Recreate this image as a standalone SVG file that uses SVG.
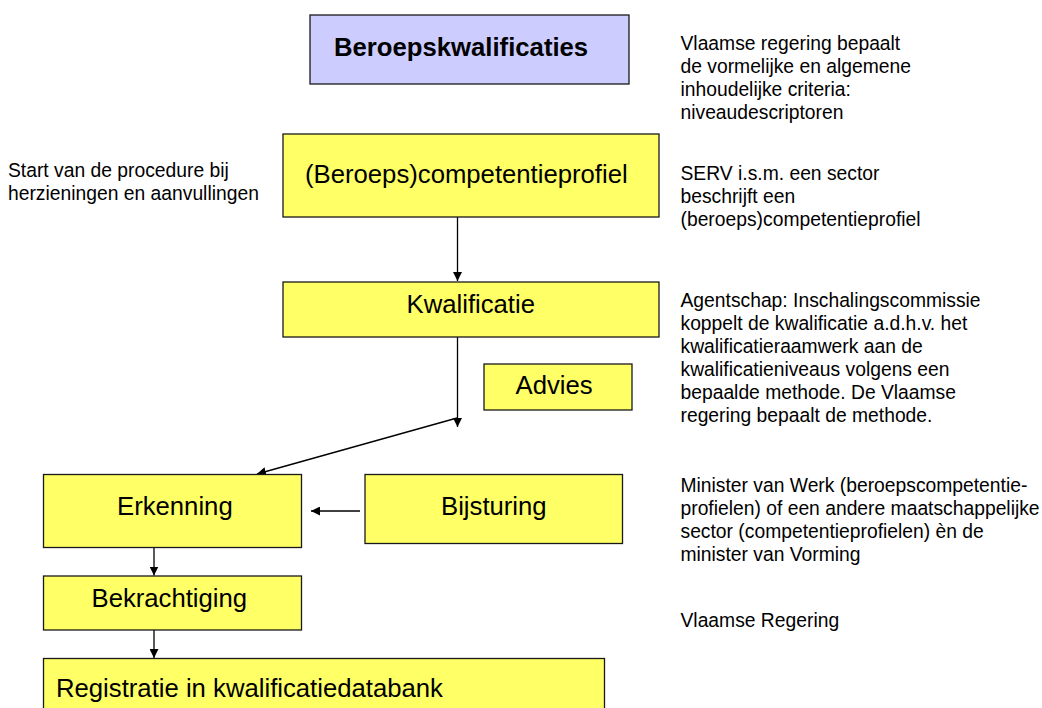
<svg xmlns="http://www.w3.org/2000/svg" width="1042" height="708" viewBox="0 0 1042 708">
<style>
.box{fill:#FFFF66;stroke:#1a1a1a;stroke-width:1.3}
.blue{fill:#CCCCFF;stroke:#1a1a1a;stroke-width:1.3}
.big{font-family:"Liberation Sans",Arial,sans-serif;font-size:25.7px;fill:#000}
.bold{font-weight:bold}
.note{font-family:"Liberation Sans",Arial,sans-serif;font-size:19.3px;fill:#000}
.con{stroke:#000;stroke-width:1.3;fill:none;marker-end:url(#ah)}
</style>
<defs>
<marker id="ah" viewBox="0 0 10 10" refX="10" refY="5" markerWidth="9" markerHeight="9" markerUnits="userSpaceOnUse" orient="auto">
<path d="M0,0 L10,5 L0,10 Z" fill="#000"/>
</marker>
</defs>
<g id="connectors">
<line class="con" x1="457.5" y1="217" x2="457.5" y2="281"/>
<line class="con" x1="457.5" y1="337" x2="457.5" y2="427"/>
<line class="con" x1="457" y1="418" x2="257" y2="474"/>
<line class="con" x1="360" y1="511" x2="311" y2="511"/>
<line class="con" x1="154" y1="547.5" x2="154" y2="575.5"/>
<line class="con" x1="154" y1="630" x2="154" y2="658"/>
</g>
<g id="beroepskwalificaties">
<rect class="blue" x="310" y="15" width="319" height="69"/>
<text class="big bold" x="334" y="55.5">Beroepskwalificaties</text>
</g>
<g id="competentieprofiel">
<rect class="box" x="283" y="134" width="376" height="83"/>
<text class="big" x="305" y="183">(Beroeps)competentieprofiel</text>
</g>
<g id="kwalificatie">
<rect class="box" x="283" y="282" width="376" height="55"/>
<text class="big" x="406.5" y="313">Kwalificatie</text>
</g>
<g id="advies">
<rect class="box" x="484" y="364" width="148" height="46"/>
<text class="big" x="515.5" y="394">Advies</text>
</g>
<g id="erkenning">
<rect class="box" x="43.5" y="474.5" width="258" height="73"/>
<text class="big" x="117" y="515">Erkenning</text>
</g>
<g id="bijsturing">
<rect class="box" x="365" y="474.5" width="257.5" height="69"/>
<text class="big" x="441" y="515">Bijsturing</text>
</g>
<g id="bekrachtiging">
<rect class="box" x="43.5" y="576" width="258" height="54"/>
<text class="big" x="91.5" y="606.5">Bekrachtiging</text>
</g>
<g id="registratie">
<rect class="box" x="43.5" y="658.5" width="561" height="60"/>
<text class="big" x="56" y="697">Registratie in kwalificatiedatabank</text>
</g>
<g id="notes">
<text class="note" x="8" y="177">Start van de procedure bij</text>
<text class="note" x="8" y="200">herzieningen en aanvullingen</text>
<text class="note" x="680.5" y="49.5">Vlaamse regering bepaalt</text>
<text class="note" x="680.5" y="72.5">de vormelijke en algemene</text>
<text class="note" x="680.5" y="95.5">inhoudelijke criteria:</text>
<text class="note" x="680.5" y="118.5">niveaudescriptoren</text>
<text class="note" x="680.5" y="179.5">SERV i.s.m. een sector</text>
<text class="note" x="680.5" y="202.5">beschrijft een</text>
<text class="note" x="680.5" y="225.5">(beroeps)competentieprofiel</text>
<text class="note" x="680.5" y="307">Agentschap: Inschalingscommissie</text>
<text class="note" x="680.5" y="330">koppelt de kwalificatie a.d.h.v. het</text>
<text class="note" x="680.5" y="353">kwalificatieraamwerk aan de</text>
<text class="note" x="680.5" y="376">kwalificatieniveaus volgens een</text>
<text class="note" x="680.5" y="399">bepaalde methode. De Vlaamse</text>
<text class="note" x="680.5" y="422">regering bepaalt de methode.</text>
<text class="note" x="680.5" y="492">Minister van Werk (beroepscompetentie-</text>
<text class="note" x="680.5" y="515">profielen) of een andere maatschappelijke</text>
<text class="note" x="680.5" y="538">sector (competentieprofielen) èn de</text>
<text class="note" x="680.5" y="561">minister van Vorming</text>
<text class="note" x="680.5" y="627">Vlaamse Regering</text>
</g>
</svg>
